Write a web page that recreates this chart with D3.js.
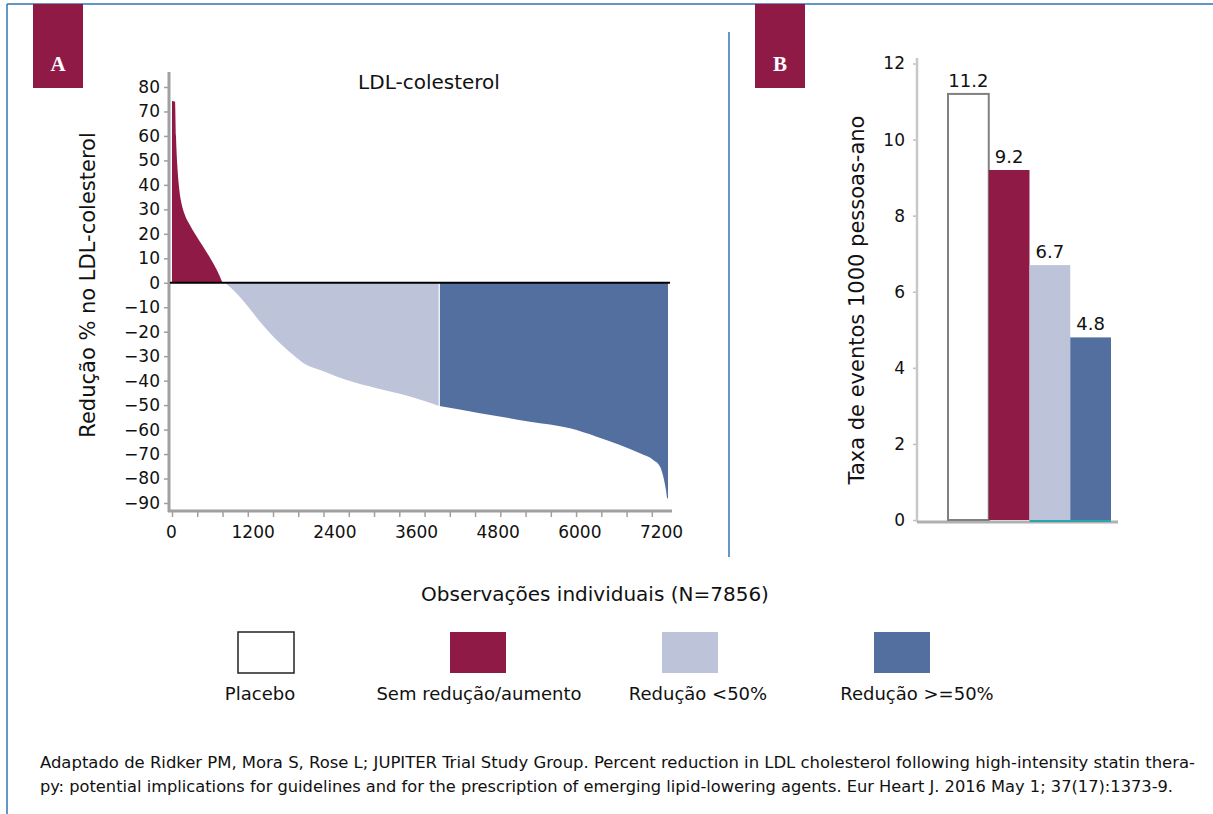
<!DOCTYPE html>
<html><head><meta charset="utf-8">
<script src="https://cdn.jsdelivr.net/npm/d3@7"></script>
<style>body{margin:0;background:#fff} text{font-family:"DejaVu Sans",sans-serif;fill:#111}</style>
</head><body><svg id="c" width="1213" height="814"></svg>
<script>
// ---- Panel A data (sorted individual observations) ----
const purpleObs = [0, 48, 63, 84, 116, 154, 200, 285, 443, 602, 760, 800];
const purpleVal = [74.3, 74, 60, 48, 38, 32, 28, 23.5, 16.8, 10.2, 2.5, 0];
const lightObs = [839, 1025, 1183, 1394, 1658, 1921, 2133, 2344, 2767, 3242, 3769, 4233];
const lightVal = [0, -4.4, -9.1, -15.9, -23.4, -29.5, -33.6, -35.6, -39.7, -43.1, -46.5, -50.4];
const darkObs = [4233, 4878, 5670, 6304, 6726, 7095, 7412, 7623, 7729, 7781, 7824, 7845, 7856];
const darkVal = [-50.4, -53.3, -56.8, -59.5, -62.9, -66.3, -69.7, -72.4, -75.1, -79.2, -84.7, -88.1, -88.3];
const xTickLabelsA = ["0", "1200", "2400", "3600", "4800", "6000", "7200"];
const yTicksA = [80, 70, 60, 50, 40, 30, 20, 10, 0, -10, -20, -30, -40, -50, -60, -70, -80, -90];
// ---- Panel B data ----
const groups = ["Placebo", "Sem redução/aumento", "Redução <50%", "Redução >=50%"];
const rates = [11.2, 9.2, 6.7, 4.8];
const yTicksB = [0, 2, 4, 6, 8, 10, 12];
const colors = ["#ffffff", "#901a46", "#bdc3d9", "#536fa0"];
const captionLines = [
  "Adaptado de Ridker PM, Mora S, Rose L; JUPITER Trial Study Group. Percent reduction in LDL cholesterol following high-intensity statin thera-",
  "py: potential implications for guidelines and for the prescription of emerging lipid-lowering agents. Eur Heart J. 2016 May 1; 37(17):1373-9."
];

const svg = d3.select("#c");
svg.append("rect").attr("width", 1213).attr("height", 814).attr("fill", "#fff");

// frame
const frameColor = "#2e75b6";
svg.append("line").attr("x1", 7).attr("x2", 1213).attr("y1", 4).attr("y2", 4).attr("stroke", frameColor).attr("stroke-width", 1.5);
svg.append("line").attr("x1", 7).attr("x2", 7).attr("y1", 4).attr("y2", 814).attr("stroke", frameColor).attr("stroke-width", 1.5);
svg.append("line").attr("x1", 729).attr("x2", 729).attr("y1", 32).attr("y2", 557).attr("stroke", frameColor).attr("stroke-width", 1.5);

// panel letter boxes
[["A", 33], ["B", 755]].forEach(([t, x]) => {
  svg.append("rect").attr("x", x).attr("y", 4).attr("width", 50).attr("height", 84).attr("fill", "#901a46");
  svg.append("text").attr("x", x + 25).attr("y", 71).attr("text-anchor", "middle")
    .style("font-family", "'Liberation Serif',serif").style("font-weight", "bold").style("font-size", "21px").style("fill", "#fff").text(t);
});

// ===== Panel A =====
const xA = d3.scaleLinear().domain([0, 7856]).range([172, 668]);
const yA = d3.scaleLinear().domain([-90, 80]).range([503, 87]);
const area = d3.area().x(d => xA(d[0])).y0(yA(0)).y1(d => yA(d[1])).curve(d3.curveMonotoneX);
const zip = (a, b) => a.map((v, i) => [v, b[i]]);
svg.append("path").attr("d", area(zip(purpleObs, purpleVal))).attr("fill", colors[1]);
svg.append("path").attr("d", area(zip(lightObs, lightVal))).attr("fill", colors[2]);
svg.append("path").attr("d", area(zip(darkObs, darkVal))).attr("fill", colors[3]);
svg.append("line").attr("x1", xA(darkObs[0])).attr("x2", xA(darkObs[0])).attr("y1", yA(0)).attr("y2", yA(darkVal[0]))
  .attr("stroke", "#fff").attr("stroke-width", 1.2);

const axisGray = "#a0a0a0";
// y axis A
const gyA = svg.append("g").attr("transform", "translate(169,0)")
  .call(d3.axisLeft(yA).tickValues(yTicksA).tickSize(5).tickPadding(4).tickSizeOuter(0));
gyA.select(".domain").remove();
gyA.selectAll(".tick line").attr("stroke", axisGray).attr("stroke-width", 1.5);
gyA.selectAll(".tick text").style("font-size", "17px").style("fill", "#111");
svg.append("line").attr("x1", 169).attr("x2", 169).attr("y1", 72).attr("y2", 512).attr("stroke", axisGray).attr("stroke-width", 3);

// x axis A
const gxA = svg.append("g").attr("transform", "translate(0,511)")
  .call(d3.axisBottom(xA).tickValues(d3.range(0, 7601, 400)).tickFormat("").tickSize(6).tickSizeOuter(0));
gxA.select(".domain").remove();
gxA.selectAll(".tick line").attr("stroke", axisGray).attr("stroke-width", 1.5);
svg.append("line").attr("x1", 168).attr("x2", 672).attr("y1", 511).attr("y2", 511).attr("stroke", axisGray).attr("stroke-width", 3);
const xLab = d3.scalePoint().domain(xTickLabelsA).range([171, 661]);
const gxL = svg.append("g").attr("transform", "translate(0,511)").call(d3.axisBottom(xLab).tickSize(0).tickPadding(15));
gxL.select(".domain").remove();
gxL.selectAll(".tick text").style("font-size", "17px").style("fill", "#111");

// zero line
svg.append("line").attr("x1", 170).attr("x2", 670).attr("y1", yA(0)).attr("y2", yA(0)).attr("stroke", "#000").attr("stroke-width", 2);

svg.append("text").attr("x", 429).attr("y", 89).attr("text-anchor", "middle").style("font-size", "20px").text("LDL-colesterol");
svg.append("text").attr("transform", "translate(95,285) rotate(-90)").attr("text-anchor", "middle").style("font-size", "21px").text("Redução % no LDL-colesterol");
svg.append("text").attr("x", 595).attr("y", 601).attr("text-anchor", "middle").style("font-size", "20px").text("Observações individuais (N=7856)");

// ===== Panel B =====
const xB = d3.scaleBand().domain(groups).range([948, 1111]).padding(0);
const yB = d3.scaleLinear().domain([0, 12]).range([520, 63.5]);
const gyB = svg.append("g").attr("transform", "translate(917,0)")
  .call(d3.axisLeft(yB).tickValues(yTicksB).tickSize(4).tickPadding(8).tickSizeOuter(0));
gyB.select(".domain").remove();
gyB.selectAll(".tick line").attr("stroke", "#c0c0c0").attr("stroke-width", 1.5);
gyB.selectAll(".tick text").style("font-size", "17px").style("fill", "#111");
svg.append("line").attr("x1", 917).attr("x2", 917).attr("y1", 58).attr("y2", 522).attr("stroke", "#c8c8c8").attr("stroke-width", 2.5);
svg.append("line").attr("x1", 917).attr("x2", 1118).attr("y1", 522).attr("y2", 522).attr("stroke", "#b0b0b0").attr("stroke-width", 3);

svg.selectAll(".barB").data(groups).join("rect").attr("class", "barB")
  .attr("x", d => xB(d)).attr("width", xB.bandwidth())
  .attr("y", (d, i) => yB(rates[i])).attr("height", (d, i) => yB(0) - yB(rates[i]))
  .attr("fill", (d, i) => colors[i])
  .attr("stroke", (d, i) => i === 0 ? "#808080" : "none").attr("stroke-width", 2);
svg.append("line").attr("x1", xB(groups[2])).attr("x2", xB(groups[3]) + xB.bandwidth()).attr("y1", 521).attr("y2", 521)
  .attr("stroke", "#2aa6b0").attr("stroke-width", 2);
svg.selectAll(".valB").data(groups).join("text").attr("class", "valB")
  .attr("x", d => xB(d) + xB.bandwidth() / 2).attr("y", (d, i) => yB(rates[i]) - 7)
  .attr("text-anchor", "middle").style("font-size", "18px").text((d, i) => rates[i].toFixed(1));
svg.append("text").attr("transform", "translate(864,300) rotate(-90)").attr("text-anchor", "middle").style("font-size", "21px").text("Taxa de eventos 1000 pessoas-ano");

// ===== Legend =====
const legSq = d3.scalePoint().domain(groups).range([266, 902]);
const legLab = d3.scalePoint().domain(groups).range([260, 917]);
svg.selectAll(".legSq").data(groups).join("rect").attr("class", "legSq")
  .attr("x", d => legSq(d) - 28).attr("y", 632).attr("width", 56).attr("height", 41)
  .attr("fill", (d, i) => colors[i]).attr("stroke", (d, i) => i === 0 ? "#222" : "none").attr("stroke-width", 1.5);
svg.selectAll(".legT").data(groups).join("text").attr("class", "legT")
  .attr("x", d => legLab(d)).attr("y", 700).attr("text-anchor", "middle").style("font-size", "18px").text(d => d);

// ===== Caption =====
svg.selectAll(".cap").data(captionLines).join("text").attr("class", "cap")
  .attr("x", 40).attr("y", (d, i) => 768 + i * 24)
  .attr("textLength", (d, i) => i === 0 ? 1155 : 1133).attr("lengthAdjust", "spacingAndGlyphs")
  .style("font-size", "15.5px").style("font-family", "'Liberation Sans Narrow','DejaVu Sans Condensed',sans-serif").text(d => d);
</script></body></html>
